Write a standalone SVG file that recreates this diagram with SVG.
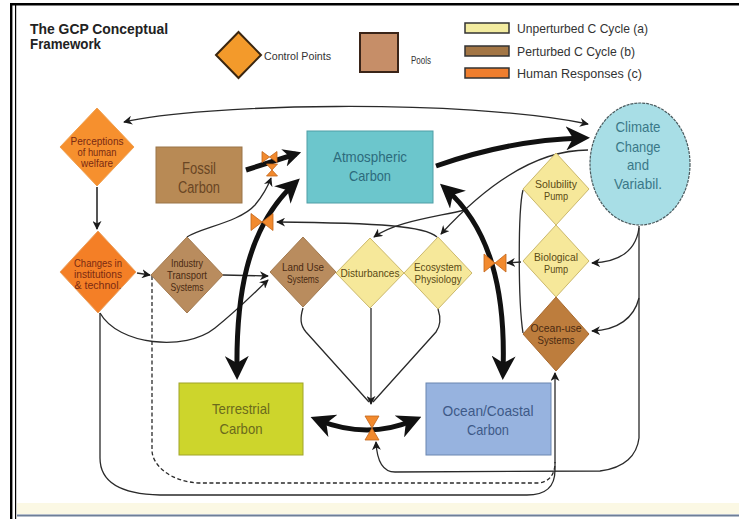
<svg xmlns="http://www.w3.org/2000/svg" width="739" height="519" viewBox="0 0 739 519">
<style>
.t{font-family:"Liberation Sans",Arial,sans-serif;text-anchor:middle}
.title{font-family:"Liberation Sans",Arial,sans-serif;font-weight:bold;font-size:14px;fill:#222}
.leg{font-family:"Liberation Sans",Arial,sans-serif;fill:#333}
.dl{font-size:11.5px}
.hr{fill:#7a2a12}
.br{fill:#4a2a12}
.yl{fill:#5a4a14}
.thin{fill:none;stroke:#2a2a2a;stroke-width:1.3}
.thick{fill:none;stroke:#111;stroke-width:5}
.cp{fill:#f28a2e;stroke:#c2641a;stroke-width:0.8}
</style>
<defs>
<marker id="ah" viewBox="0 0 10 10" refX="9" refY="5" markerWidth="9" markerHeight="9" markerUnits="userSpaceOnUse" orient="auto-start-reverse">
<path d="M0,0 L10,5 L0,10 L3,5 z" fill="#1a1a1a"/>
</marker>
<marker id="big" viewBox="0 0 24 24" refX="16" refY="12" markerWidth="24" markerHeight="24" markerUnits="userSpaceOnUse" orient="auto-start-reverse">
<path d="M0,0 L24,12 L0,24 L7,12 z" fill="#111"/>
</marker>
<marker id="mid" viewBox="0 0 20 20" refX="14" refY="10" markerWidth="18" markerHeight="18" markerUnits="userSpaceOnUse" orient="auto">
<path d="M0,0 L20,10 L0,20 L6,10 z" fill="#111"/>
</marker>
</defs>
<rect x="0" y="0" width="739" height="519" fill="#ffffff"/>
<rect x="17" y="503" width="722" height="11" fill="#fbf8e4"/>
<line x1="17" y1="515.5" x2="739" y2="515.5" stroke="#6d7e98" stroke-width="2"/>
<line x1="10" y1="4.3" x2="739" y2="4.3" stroke="#000" stroke-width="2.4"/>
<line x1="11.2" y1="3" x2="11.2" y2="519" stroke="#000" stroke-width="2.4"/>
<line x1="15.6" y1="5" x2="15.6" y2="519" stroke="#000" stroke-width="1.2"/>

<g id="title">
<text class="title" x="30" y="34" textLength="138" lengthAdjust="spacingAndGlyphs">The GCP Conceptual</text>
<text class="title" x="30" y="48.5" textLength="71" lengthAdjust="spacingAndGlyphs">Framework</text>
</g>
<g id="legend">
<polygon points="216,55 238.5,32 261,55 238.5,78" fill="#f39a2b" stroke="#3a2610" stroke-width="2"/>
<text class="leg" x="264" y="60" font-size="11" textLength="67" lengthAdjust="spacingAndGlyphs">Control Points</text>
<rect x="360" y="33" width="38" height="39" fill="#c68e68" stroke="#3a2418" stroke-width="2"/>
<text class="leg" x="411" y="64" font-size="10" textLength="20" lengthAdjust="spacingAndGlyphs">Pools</text>
<rect x="465" y="23" width="44" height="10" fill="#f3eca0" stroke="#333" stroke-width="1.5"/>
<text class="leg" x="517" y="33" font-size="13" textLength="131" lengthAdjust="spacingAndGlyphs">Unperturbed C Cycle (a)</text>
<rect x="465" y="46" width="44" height="10" fill="#a37645" stroke="#333" stroke-width="1.5"/>
<text class="leg" x="517" y="56" font-size="13" textLength="118" lengthAdjust="spacingAndGlyphs">Perturbed C Cycle (b)</text>
<rect x="465" y="68" width="44" height="10" fill="#ef7e2e" stroke="#333" stroke-width="1.5"/>
<text class="leg" x="517" y="78" font-size="13" textLength="125" lengthAdjust="spacingAndGlyphs">Human Responses (c)</text>
</g>

<g id="connectors">
<path class="thin" d="M124,122 C200,104 460,98 588,124" marker-start="url(#ah)" marker-end="url(#ah)"/>
<path d="M97,187 L97,229" fill="none" stroke="#555" stroke-width="2" marker-end="url(#ah)"/>
<path class="thin" d="M137,273 L150,275" marker-end="url(#ah)"/>
<path class="thin" d="M223,275 L268,276" marker-end="url(#ah)"/>
<path class="thin" d="M100,313 C118,345 185,352 215,328 C240,308 255,292 268,280" marker-end="url(#ah)"/>
<path class="thin" d="M187,237 C200,228 240,222 255,205 C265,193 268,186 271,178" marker-end="url(#ah)"/>
<path class="thin" d="M100,313 L100,458 C100,478 115,494 160,495 L527,495 C545,495 555,488 555,470 L555,373" marker-end="url(#ah)"/>
<path class="thin" d="M152,276 L152,450 C152,465 170,482 200,483 L538,483 C549,482 555,475 555,462" stroke-dasharray="4 2.5"/>
<path class="thin" d="M639,226 L639,438 C637,455 625,468 600,471 L395,472 C384,472 377,462 376,442" marker-end="url(#ah)"/>
<path class="thin" d="M639,228 C636,250 620,262 592,263" marker-end="url(#ah)"/>
<path class="thin" d="M639,298 C634,318 618,330 592,331" marker-end="url(#ah)"/>
<path class="thin" d="M523,190 C518,210 518,300 523,333"/>
<path class="thin" d="M521,262 L507,263" marker-end="url(#ah)"/>
<path class="thin" d="M437,237 C425,226 380,223 277,222" marker-end="url(#ah)"/>
<path class="thin" d="M588,150 C545,150 495,175 441,234" marker-end="url(#ah)"/>
<path class="thin" d="M465,210 C430,218 395,222 374,237" marker-end="url(#ah)"/>
<path class="thin" d="M303,308 C300,318 300,325 306,332 L369,402"/>
<path class="thin" d="M371,308 L371,404" stroke="#666" marker-end="url(#ah)"/>
<path class="thin" d="M438,309 C441,318 441,325 436,332 L373,402"/>
<path class="thick" d="M237,372 C236,300 245,230 294,184" marker-start="url(#big)" marker-end="url(#big)"/>
<path class="thick" d="M503,372 C506,290 490,228 446,189" marker-start="url(#big)" marker-end="url(#big)"/>
<path class="thick" d="M318,420 Q368,440 414,420" marker-start="url(#big)" marker-end="url(#big)"/>
<path class="thick" d="M436,166 Q510,140 582,138" stroke-width="4" marker-end="url(#big)"/>
<path class="thick" d="M246,170 L296,154" stroke-width="3.5" marker-end="url(#mid)"/>
</g>

<g id="cp1"><polygon class="cp" points="262,151.5 269.5,157 262,162.5"/><polygon class="cp" points="277,151.5 269.5,157 277,162.5"/></g>
<g id="cp2"><polygon class="cp" points="266.5,164 277.5,164 272,170"/><polygon class="cp" points="266.5,176 277.5,176 272,170"/></g>
<g id="cp3"><polygon class="cp" points="251,213.5 262,222 251,230.5"/><polygon class="cp" points="273,213.5 262,222 273,230.5"/></g>
<g id="cp4"><polygon class="cp" points="484,254 495,263 484,272"/><polygon class="cp" points="506,254 495,263 506,272"/></g>
<g id="cp5"><polygon class="cp" points="365,416 379,416 372,428"/><polygon class="cp" points="365,440 379,440 372,428"/></g>

<g id="perceptions">
<polygon points="60,147 97,108 134,147 97,186" fill="#f6902e" stroke="#f0a050" stroke-width="1"/>
<text class="t dl hr" x="97" y="145" textLength="53" lengthAdjust="spacingAndGlyphs">Perceptions</text>
<text class="t dl hr" x="97" y="156" textLength="39" lengthAdjust="spacingAndGlyphs">of human</text>
<text class="t dl hr" x="97" y="167" textLength="32" lengthAdjust="spacingAndGlyphs">welfare</text>
</g>
<g id="changes">
<polygon points="60,272 98,231 136,272 98,313" fill="#f47f26" stroke="#e9a060" stroke-width="1"/>
<text class="t dl hr" x="98" y="267" textLength="48" lengthAdjust="spacingAndGlyphs">Changes in</text>
<text class="t dl hr" x="98" y="278" textLength="48" lengthAdjust="spacingAndGlyphs">institutions</text>
<text class="t dl hr" x="98" y="289" textLength="47" lengthAdjust="spacingAndGlyphs">&amp; technol.</text>
</g>
<g id="industry">
<polygon points="151,275 187,237 223,275 187,313" fill="#b98c5e" stroke="#a27a50" stroke-width="1"/>
<text class="t dl br" x="187" y="267" textLength="32" lengthAdjust="spacingAndGlyphs">Industry</text>
<text class="t dl br" x="187" y="279" textLength="40" lengthAdjust="spacingAndGlyphs">Transport</text>
<text class="t dl br" x="187" y="291" textLength="33" lengthAdjust="spacingAndGlyphs">Systems</text>
</g>
<g id="landuse">
<polygon points="270,272 303,237 336,272 303,307" fill="#b98c5e" stroke="#a27a50" stroke-width="1"/>
<text class="t dl br" x="303" y="271" textLength="42" lengthAdjust="spacingAndGlyphs">Land Use</text>
<text class="t dl br" x="303" y="283" textLength="32" lengthAdjust="spacingAndGlyphs">Systems</text>
</g>
<g id="disturbances">
<polygon points="336,273 370,238 404,273 370,308" fill="#f6e89a" stroke="#cbb86c" stroke-width="1"/>
<text class="t dl yl" x="370" y="277" textLength="59" lengthAdjust="spacingAndGlyphs">Disturbances</text>
</g>
<g id="ecosystem">
<polygon points="404,273 438,237 472,273 438,309" fill="#f6e89a" stroke="#cbb86c" stroke-width="1"/>
<text class="t dl yl" x="438" y="271" textLength="48" lengthAdjust="spacingAndGlyphs">Ecosystem</text>
<text class="t dl yl" x="438" y="283" textLength="47" lengthAdjust="spacingAndGlyphs">Physiology</text>
</g>
<g id="solubility">
<polygon points="523,189 556,153 589,189 556,225" fill="#f6e89a" stroke="#cbb86c" stroke-width="1"/>
<text class="t yl" font-size="10.5" x="556" y="188" textLength="42" lengthAdjust="spacingAndGlyphs">Solubility</text>
<text class="t yl" font-size="10.5" x="556" y="200" textLength="24" lengthAdjust="spacingAndGlyphs">Pump</text>
</g>
<g id="biological">
<polygon points="523,261 556,225 589,261 556,297" fill="#f6e89a" stroke="#cbb86c" stroke-width="1"/>
<text class="t dl yl" x="556" y="261" textLength="44" lengthAdjust="spacingAndGlyphs">Biological</text>
<text class="t dl yl" x="556" y="273" textLength="24" lengthAdjust="spacingAndGlyphs">Pump</text>
</g>
<g id="oceanuse">
<polygon points="523,334 556,297 589,334 556,371" fill="#bd7d3d" stroke="#a86a30" stroke-width="1"/>
<text class="t dl br" x="556" y="332" textLength="51" lengthAdjust="spacingAndGlyphs">Ocean-use</text>
<text class="t dl br" x="556" y="344" textLength="37" lengthAdjust="spacingAndGlyphs">Systems</text>
</g>
<g id="fossil">
<rect x="156" y="147" width="86" height="56" fill="#b88a55" stroke="#9a7448" stroke-width="1"/>
<text class="t" font-size="16" fill="#6a4624" x="199" y="174" textLength="34" lengthAdjust="spacingAndGlyphs">Fossil</text>
<text class="t" font-size="16" fill="#6a4624" x="199" y="193" textLength="42" lengthAdjust="spacingAndGlyphs">Carbon</text>
</g>
<g id="atmospheric">
<rect x="307" y="131" width="126" height="72" fill="#6cc6cc" stroke="#4f9ea6" stroke-width="1"/>
<text class="t" font-size="15" fill="#2c6b7c" x="370" y="162" textLength="74" lengthAdjust="spacingAndGlyphs">Atmospheric</text>
<text class="t" font-size="15" fill="#2c6b7c" x="370" y="181" textLength="42" lengthAdjust="spacingAndGlyphs">Carbon</text>
</g>
<g id="climate">
<ellipse cx="640" cy="164" rx="50" ry="61" fill="#a8dee6" stroke="#4a5a5e" stroke-width="1.2" stroke-dasharray="3 1"/>
<text class="t" font-size="15" fill="#3a7888" x="638" y="132" textLength="45" lengthAdjust="spacingAndGlyphs">Climate</text>
<text class="t" font-size="15" fill="#3a7888" x="638" y="152" textLength="45" lengthAdjust="spacingAndGlyphs">Change</text>
<text class="t" font-size="15" fill="#3a7888" x="638" y="170" textLength="22" lengthAdjust="spacingAndGlyphs">and</text>
<text class="t" font-size="15" fill="#3a7888" x="638" y="189" textLength="48" lengthAdjust="spacingAndGlyphs">Variabil.</text>
</g>
<g id="terrestrial">
<rect x="179" y="383" width="124" height="72" fill="#cdd52c" stroke="#a0a428" stroke-width="1"/>
<text class="t" font-size="15" fill="#6b6a1c" x="241" y="414" textLength="58" lengthAdjust="spacingAndGlyphs">Terrestrial</text>
<text class="t" font-size="15" fill="#6b6a1c" x="241" y="434" textLength="43" lengthAdjust="spacingAndGlyphs">Carbon</text>
</g>
<g id="ocean">
<rect x="426" y="383" width="125" height="72" fill="#97b3df" stroke="#6a86b0" stroke-width="1"/>
<text class="t" font-size="15" fill="#3e5a88" x="488" y="416" textLength="91" lengthAdjust="spacingAndGlyphs">Ocean/Coastal</text>
<text class="t" font-size="15" fill="#3e5a88" x="488" y="435" textLength="42" lengthAdjust="spacingAndGlyphs">Carbon</text>
</g>
</svg>
